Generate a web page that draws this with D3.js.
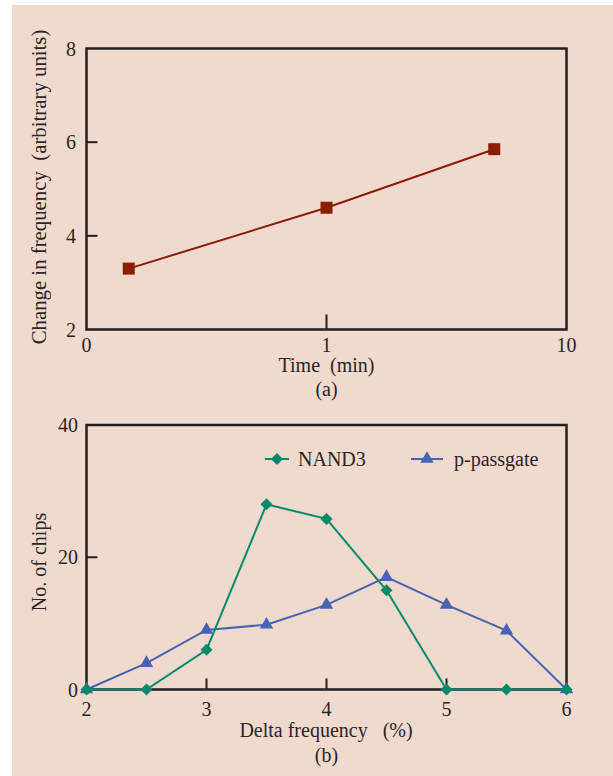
<!DOCTYPE html>
<html>
<head>
<meta charset="utf-8">
<script src="https://cdn.jsdelivr.net/npm/d3@7"></script>
<style>
  html, body { margin: 0; padding: 0; background: #fff; }
  svg { display: block; }
  text { font-family: "Liberation Serif", "Times New Roman", serif; fill: #2b2526; }
</style>
</head>
<body>
<div id="chart"></div>
<script>
// data
const timeMin = [0.15, 1, 5];
const freqChange = [3.3, 4.6, 5.85];

const deltaFreq = [2, 2.5, 3, 3.5, 4, 4.5, 5, 5.5, 6];
const nand3 = [0, 0, 6, 28, 25.8, 15, 0, 0, 0];
const pPassgate = [0, 4, 9, 9.8, 12.8, 17, 12.8, 8.9, 0];

const topXTicks = [0.1, 1, 10];
const topXLabels = ['0', '1', '10'];
const topYTicks = [2, 4, 6, 8];
const botXTicks = [2, 3, 4, 5, 6];
const botYTicks = [0, 20, 40];

const W = 613, H = 776;
const INK = '#231f20';
const RED = '#8b1c06';
const GREEN = '#00896a';
const BLUE = '#4763b3';

const svg = d3.select('#chart').append('svg')
    .attr('width', W)
    .attr('height', H);

// page panel
svg.append('rect')
    .attr('x', 12).attr('y', 5)
    .attr('width', W - 12).attr('height', H - 5)
    .attr('fill', '#f0dacd');

// ---------- (a) ----------
const xA = d3.scaleLog().domain([0.1, 10]).range([86.5, 566.5]);
const yA = d3.scaleLinear().domain([2, 8]).range([329.5, 48.5]);

const gA = svg.append('g');

// axis tick labels
gA.selectAll('.xl').data(topXTicks).join('text')
    .attr('x', d => xA(d))
    .attr('y', 352)
    .attr('text-anchor', 'middle')
    .attr('font-size', 20)
    .text((d, i) => topXLabels[i]);
gA.selectAll('.yl').data(topYTicks).join('text')
    .attr('x', 76)
    .attr('y', d => yA(d) + 7)
    .attr('text-anchor', 'end')
    .attr('font-size', 20)
    .text(d => d);

// inward ticks
gA.selectAll('.yt').data([4, 6]).join('line')
    .attr('x1', xA(0.1)).attr('x2', xA(0.1) + 11)
    .attr('y1', d => yA(d)).attr('y2', d => yA(d))
    .attr('stroke', INK).attr('stroke-width', 2);
gA.selectAll('.xt').data([1]).join('line')
    .attr('x1', d => xA(d)).attr('x2', d => xA(d))
    .attr('y1', yA(2)).attr('y2', yA(2) - 15)
    .attr('stroke', INK).attr('stroke-width', 2);

gA.append('rect')
    .attr('x', xA(0.1)).attr('y', yA(8))
    .attr('width', xA(10) - xA(0.1)).attr('height', yA(2) - yA(8))
    .attr('fill', 'none').attr('stroke', INK).attr('stroke-width', 2.5);

const ptsA = timeMin.map((t, i) => [t, freqChange[i]]);
gA.append('path')
    .datum(ptsA)
    .attr('fill', 'none')
    .attr('stroke', RED)
    .attr('stroke-width', 2)
    .attr('d', d3.line().x(d => xA(d[0])).y(d => yA(d[1])));
gA.selectAll('.sq').data(ptsA).join('rect')
    .attr('x', d => xA(d[0]) - 6)
    .attr('y', d => yA(d[1]) - 6)
    .attr('width', 12).attr('height', 12)
    .attr('fill', RED);

gA.append('text')
    .attr('x', xA(1)).attr('y', 372)
    .attr('text-anchor', 'middle').attr('font-size', 20)
    .attr('xml:space', 'preserve')
    .text('Time  (min)');
gA.append('text')
    .attr('x', xA(1)).attr('y', 396)
    .attr('text-anchor', 'middle').attr('font-size', 20)
    .text('(a)');
gA.append('text')
    .attr('transform', 'translate(46,187) rotate(-90)')
    .attr('text-anchor', 'middle').attr('font-size', 20.8)
    .attr('xml:space', 'preserve')
    .text('Change in frequency  (arbitrary units)');

// ---------- (b) ----------
const xB = d3.scaleLinear().domain([2, 6]).range([86.5, 566.5]);
const yB = d3.scaleLinear().domain([0, 40]).range([689.5, 425]);

const gB = svg.append('g');

gB.selectAll('.xl').data(botXTicks).join('text')
    .attr('x', d => xB(d))
    .attr('y', 716)
    .attr('text-anchor', 'middle')
    .attr('font-size', 20)
    .text(d => d);
gB.selectAll('.yl').data(botYTicks).join('text')
    .attr('x', 78)
    .attr('y', d => yB(d) + 7)
    .attr('text-anchor', 'end')
    .attr('font-size', 20)
    .text(d => d);

gB.selectAll('.yt').data([20]).join('line')
    .attr('x1', xB(2)).attr('x2', xB(2) + 11)
    .attr('y1', d => yB(d)).attr('y2', d => yB(d))
    .attr('stroke', INK).attr('stroke-width', 2);
gB.selectAll('.xt').data([3, 4, 5]).join('line')
    .attr('x1', d => xB(d)).attr('x2', d => xB(d))
    .attr('y1', yB(0)).attr('y2', yB(0) - 11)
    .attr('stroke', INK).attr('stroke-width', 2);

gB.append('rect')
    .attr('x', xB(2)).attr('y', yB(40))
    .attr('width', xB(6) - xB(2)).attr('height', yB(0) - yB(40))
    .attr('fill', 'none').attr('stroke', INK).attr('stroke-width', 2.5);

// diamond = square turned 45 degrees
const markDiamond = d3.symbol().type(d3.symbolSquare).size(72);
const markTriangle = d3.symbol().type(d3.symbolTriangle).size(78);

const lineB = d3.line().x(d => xB(d[0])).y(d => yB(d[1]));
const series = [
    {name: 'p-passgate', vals: pPassgate, color: BLUE, mark: markTriangle, rot: 0},
    {name: 'NAND3', vals: nand3, color: GREEN, mark: markDiamond, rot: 45}
];
series.forEach(s => {
    const pts = deltaFreq.map((x, i) => [x, s.vals[i]]);
    gB.append('path')
        .datum(pts)
        .attr('fill', 'none')
        .attr('stroke', s.color)
        .attr('stroke-width', 2)
        .attr('d', lineB);
    gB.selectAll(null).data(pts).join('path')
        .attr('transform', d => `translate(${xB(d[0])},${yB(d[1])}) rotate(${s.rot})`)
        .attr('d', s.mark)
        .attr('fill', s.color);
});

// legend
const legend = [
    {name: 'NAND3', color: GREEN, mark: markDiamond, rot: 45, x0: 265, x1: 289, tx: 298},
    {name: 'p-passgate', color: BLUE, mark: markTriangle, rot: 0, x0: 411, x1: 443, tx: 454}
];
legend.forEach(l => {
    const ly = 459;
    gB.append('line')
        .attr('x1', l.x0).attr('x2', l.x1)
        .attr('y1', ly).attr('y2', ly)
        .attr('stroke', l.color).attr('stroke-width', 2);
    gB.append('path')
        .attr('transform', `translate(${(l.x0 + l.x1) / 2},${ly}) rotate(${l.rot})`)
        .attr('d', l.mark)
        .attr('fill', l.color);
    gB.append('text')
        .attr('x', l.tx).attr('y', ly + 7)
        .attr('font-size', 20)
        .text(l.name);
});

gB.append('text')
    .attr('x', 326).attr('y', 737)
    .attr('text-anchor', 'middle').attr('font-size', 20)
    .attr('xml:space', 'preserve')
    .text('Delta frequency   (%)');
gB.append('text')
    .attr('x', xB(4)).attr('y', 762)
    .attr('text-anchor', 'middle').attr('font-size', 20)
    .text('(b)');
gB.append('text')
    .attr('transform', 'translate(46,562) rotate(-90)')
    .attr('text-anchor', 'middle').attr('font-size', 20)
    .text('No. of chips');
</script>
</body>
</html>
